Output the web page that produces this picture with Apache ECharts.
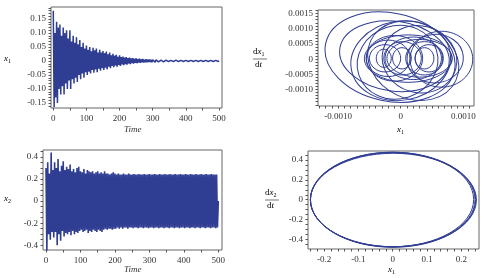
<!DOCTYPE html>
<html>
<head>
<meta charset="utf-8">
<script src="https://cdn.jsdelivr.net/npm/echarts@6/dist/echarts.min.js"></script>
<style>
  html, body { margin: 0; padding: 0; background: #fff; }
  #main { width: 484px; height: 278px; }
</style>
</head>
<body>
<div id="main"></div>
<script>
// x1(t) 上下峰值, 每 5 个时间单位一个 (下峰值在 t+2.5)
var x1Upper = [0.18,0.10,0.14,0.12,0.13,0.09,0.12,0.10,0.11,0.08,
  0.11,0.07,0.09,0.065,0.085,0.06,0.075,0.05,0.065,0.045,
  0.055,0.04,0.05,0.035,0.047,0.038,0.045,0.03,0.04,0.03,
  0.036,0.028,0.034,0.024,0.03,0.02,0.026,0.019,0.022,0.015,
  0.02,0.014,0.016,0.012,0.014,0.01,0.012,0.009,0.01,0.008,
  0.009,0.007,0.008,0.006,0.007,0.005,0.006,0.005,0.005,0.004,
  0.004,0.004,0.004,0.003,0.004,0.003,0.003,0.003,0.003,0.003,
  0.003,0.002,0.003,0.002,0.003,0.002,0.002,0.002,0.002,0.002,
  0.002,0.002,0.002,0.002,0.002,0.002,0.002,0.002,0.002,0.002,
  0.002,0.002,0.002,0.002,0.002,0.002,0.002,0.002,0.002,0.002];
var x1Lower = [-0.165,-0.13,-0.15,-0.10,-0.12,-0.09,-0.12,-0.08,-0.10,-0.07,
  -0.10,-0.065,-0.08,-0.06,-0.075,-0.05,-0.065,-0.045,-0.06,-0.04,
  -0.05,-0.038,-0.045,-0.032,-0.042,-0.03,-0.04,-0.028,-0.035,-0.026,
  -0.032,-0.024,-0.03,-0.02,-0.026,-0.018,-0.022,-0.016,-0.02,-0.014,
  -0.018,-0.012,-0.015,-0.011,-0.013,-0.009,-0.011,-0.008,-0.009,-0.007,
  -0.008,-0.006,-0.007,-0.005,-0.006,-0.005,-0.005,-0.004,-0.004,-0.004,
  -0.003,-0.004,-0.003,-0.003,-0.003,-0.003,-0.003,-0.002,-0.003,-0.002,
  -0.002,-0.002,-0.002,-0.002,-0.002,-0.002,-0.002,-0.002,-0.002,-0.002,
  -0.002,-0.002,-0.002,-0.002,-0.002,-0.002,-0.002,-0.002,-0.002,-0.002,
  -0.002,-0.002,-0.002,-0.002,-0.002,-0.002,-0.002,-0.002,-0.002,-0.002];

// x2(t) 上下峰值
var x2Upper = [0.30,0.35,0.25,0.44,0.28,0.35,0.30,0.38,0.27,0.32,
  0.36,0.28,0.31,0.29,0.33,0.27,0.29,0.26,0.30,0.31,
  0.27,0.26,0.29,0.25,0.28,0.27,0.26,0.27,0.25,0.26,
  0.27,0.25,0.26,0.25,0.27,0.25,0.25,0.24,0.25,0.26,
  0.25,0.24,0.25,0.24,0.24,0.25,0.24,0.24,0.25,0.24,
  0.24,0.245,0.24,0.24,0.245,0.24,0.24,0.245,0.24,0.24,
  0.245,0.24,0.24,0.245,0.24,0.24,0.245,0.24,0.24,0.245,
  0.24,0.24,0.245,0.24,0.24,0.245,0.24,0.24,0.245,0.24,
  0.24,0.245,0.24,0.24,0.245,0.24,0.24,0.245,0.24,0.24,
  0.245,0.24,0.24,0.245,0.24,0.24,0.245,0.24,0.24,0.24];
var x2Lower = [-0.45,-0.30,-0.35,-0.28,-0.33,-0.28,-0.40,-0.30,-0.36,-0.27,
  -0.32,-0.29,-0.30,-0.28,-0.31,-0.27,-0.30,-0.28,-0.29,-0.27,
  -0.26,-0.28,-0.27,-0.26,-0.29,-0.27,-0.28,-0.26,-0.27,-0.28,
  -0.26,-0.27,-0.28,-0.26,-0.25,-0.26,-0.25,-0.25,-0.26,-0.25,
  -0.25,-0.24,-0.25,-0.24,-0.25,-0.24,-0.24,-0.25,-0.24,-0.24,
  -0.245,-0.24,-0.24,-0.245,-0.24,-0.24,-0.245,-0.24,-0.24,-0.245,
  -0.24,-0.24,-0.245,-0.24,-0.24,-0.245,-0.24,-0.24,-0.245,-0.24,
  -0.24,-0.245,-0.24,-0.24,-0.245,-0.24,-0.24,-0.245,-0.24,-0.24,
  -0.245,-0.24,-0.24,-0.245,-0.24,-0.24,-0.245,-0.24,-0.24,-0.245,
  -0.24,-0.24,-0.245,-0.24,-0.24,-0.245,-0.24,-0.24,-0.245,-0.24];

// 相图 (x1, dx1/dt) 中的环: [中心x, 中心y, 半轴x, 半轴y, 倾角(度)]
var loops1 = [
  [-0.00017, 0.00007, 0.00105, 0.00145, -12],
  [-0.00010, 0.00010, 0.00088, 0.00115, -8],
  [0.00000, -0.00005, 0.00080, 0.00130, 10],
  [0.00065, 0.00000, 0.00050, 0.00092, 0],
  [0.00055, 0.00002, 0.00045, 0.00080, 5],
  [0.00030, 0.00000, 0.00060, 0.00110, -15],
  [-0.00005, -0.00010, 0.00065, 0.00120, 18],
  [0.00012, 0.00002, 0.00070, 0.00078, 0],
  [0.00020, -0.00005, 0.00075, 0.00125, -25],
  [-0.00010, 0.00003, 0.00045, 0.00075, 0],
  [0.00020, 0.00003, 0.00045, 0.00070, 0],
  [0.00030, 0.00003, 0.00052, 0.00062, 0],
  [-0.00020, 0.00003, 0.00035, 0.00060, 0],
  [-0.00025, 0.00003, 0.00025, 0.00045, 0],
  [-0.00027, 0.00003, 0.00012, 0.00030, 0],
  [0.00003, 0.00003, 0.00030, 0.00055, 0],
  [0.00002, 0.00003, 0.00015, 0.00035, 0],
  [0.00038, 0.00003, 0.00030, 0.00055, 0],
  [0.00038, 0.00003, 0.00015, 0.00035, 0],
  [0.00045, 0.00003, 0.00022, 0.00045, 0]
];
// 相图 (x, dx2/dt) 的极限环
var loops2 = [
  [0.000, 0.000, 0.240, 0.476, 0],
  [0.002, -0.003, 0.242, 0.472, 0],
  [-0.002, 0.002, 0.238, 0.478, 0],
  [0.001, -0.001, 0.241, 0.480, 0]
];

var timeTicks = [0, 50, 100, 150, 200, 250, 300, 350, 400, 450, 500];
var timeLabels = [0, 100, 200, 300, 400, 500];
var x1Labels = [-0.15, -0.10, -0.05, 0, 0.05, 0.10, 0.15];
var x1Ticks = [-0.16,-0.15,-0.14,-0.13,-0.12,-0.11,-0.10,-0.09,-0.08,-0.07,-0.06,-0.05,-0.04,-0.03,-0.02,-0.01,0,
  0.01,0.02,0.03,0.04,0.05,0.06,0.07,0.08,0.09,0.10,0.11,0.12,0.13,0.14,0.15,0.16,0.17,0.18,0.19];
var p1xLabels = [-0.001, 0, 0.001];
var p1xTicks = [-0.0013,-0.0012,-0.0011,-0.001,-0.0009,-0.0008,-0.0007,-0.0006,-0.0005,-0.0004,-0.0003,-0.0002,-0.0001,0,
  0.0001,0.0002,0.0003,0.0004,0.0005,0.0006,0.0007,0.0008,0.0009,0.001,0.0011];
var p1yLabels = [-0.001, -0.0005, 0, 0.0005, 0.001, 0.0015];
var p1yTicks = [-0.0015,-0.0014,-0.0013,-0.0012,-0.0011,-0.001,-0.0009,-0.0008,-0.0007,-0.0006,-0.0005,-0.0004,-0.0003,-0.0002,-0.0001,0,
  0.0001,0.0002,0.0003,0.0004,0.0005,0.0006,0.0007,0.0008,0.0009,0.001,0.0011,0.0012,0.0013,0.0014,0.0015,0.0016];
var x2Labels = [-0.4, -0.2, 0, 0.2, 0.4];
var x2Ticks = [-0.4,-0.35,-0.3,-0.25,-0.2,-0.15,-0.1,-0.05,0,0.05,0.1,0.15,0.2,0.25,0.3,0.35,0.4,0.45];
var p2xLabels = [-0.2, -0.1, 0, 0.1, 0.2];
var p2xTicks = [-0.24,-0.22,-0.2,-0.18,-0.16,-0.14,-0.12,-0.1,-0.08,-0.06,-0.04,-0.02,0,
  0.02,0.04,0.06,0.08,0.1,0.12,0.14,0.16,0.18,0.2,0.22,0.24];
var p2yLabels = [-0.4, -0.2, 0, 0.2, 0.4];
var p2yTicks = [-0.45,-0.4,-0.35,-0.3,-0.25,-0.2,-0.15,-0.1,-0.05,0,0.05,0.1,0.15,0.2,0.25,0.3,0.35,0.4,0.45];

var LINE = '#2f3d93';
var FONT = '"Liberation Serif", "DejaVu Serif", serif';
var TXT = '#333';

function makeWave(upper, lower, tail) {
  var out = [];
  for (var i = 0; i < upper.length; i++) {
    out.push([i * 5, upper[i]]);
    out.push([i * 5 + 2.5, lower[i]]);
  }
  if (tail != null) out.push([500, tail]);
  return out;
}

function fmt(v) {
  if (v === 0) return '0';
  return String(v);
}

function axis(gridIndex, min, max, labels, ticks, formatter, isX) {
  return {
    type: 'value', gridIndex: gridIndex, min: min, max: max,
    splitLine: { show: false },
    axisLine: { show: false, onZero: false },
    axisTick: { show: true, customValues: ticks, length: 2.5, lineStyle: { color: '#555', width: 1 } },
    axisLabel: {
      show: true, customValues: labels, color: TXT, fontFamily: FONT, fontSize: 9,
      margin: isX ? 6 : 5, formatter: formatter
    }
  };
}

function ellipseItem(params, api) {
  var c = api.coord([api.value(0), api.value(1)]);
  var s = api.size([api.value(2), api.value(3)]);
  return {
    type: 'ellipse',
    x: c[0], y: c[1],
    rotation: api.value(4) * Math.PI / 180,
    shape: { cx: 0, cy: 0, rx: s[0], ry: s[1] },
    style: { fill: null, stroke: LINE, lineWidth: 1 }
  };
}

function sub(main, idx) {
  return '{i|' + main + '}{s|' + idx + '}';
}
var richSub = {
  i: { fontFamily: FONT, fontStyle: 'italic', fontSize: 9, color: TXT },
  s: { fontFamily: FONT, fontSize: 6, color: TXT, verticalAlign: 'bottom', padding: [5, 0, 0, 0] },
  r: { fontFamily: FONT, fontSize: 9, color: TXT }
};

function fraction(cx, cy, idx) {
  return [
    { type: 'text', left: cx - 7, top: cy - 12, style: { text: '{r|d}' + sub('x', idx), rich: richSub } },
    { type: 'line', shape: { x1: cx - 7, y1: cy, x2: cx + 7, y2: cy }, style: { stroke: '#555', lineWidth: 0.8 } },
    { type: 'text', left: cx - 5, top: cy + 1, style: { text: '{r|d}{i|t}', rich: richSub } }
  ];
}

var chart = echarts.init(document.getElementById('main'));

var fmt4 = function (v) { return v === 0 ? '0' : v.toFixed(4); };
var fmt2 = function (v) { return v === 0 ? '0' : v.toFixed(2); };
var fmt1 = function (v) { return v === 0 ? '0' : v.toFixed(1); };

var option = {
  animation: false,
  backgroundColor: '#fff',
  grid: [
    { left: 51, top: 7, width: 171, height: 101, show: true, borderColor: '#666', borderWidth: 1, backgroundColor: '#fff' },
    { left: 318, top: 10, width: 156, height: 96, show: true, borderColor: '#666', borderWidth: 1, backgroundColor: '#fff' },
    { left: 43, top: 150, width: 179, height: 100, show: true, borderColor: '#666', borderWidth: 1, backgroundColor: '#fff' },
    { left: 308, top: 151, width: 171, height: 98, show: true, borderColor: '#666', borderWidth: 1, backgroundColor: '#fff' }
  ],
  xAxis: [
    axis(0, -6.9, 509, timeLabels, timeTicks, fmt, true),
    axis(1, -0.00132, 0.00117, p1xLabels, p1xTicks, fmt4, true),
    axis(2, -8.7, 510.7, timeLabels, timeTicks, fmt, true),
    axis(3, -0.247, 0.2516, p2xLabels, p2xTicks, fmt1, true)
  ],
  yAxis: [
    axis(0, -0.168, 0.193, x1Labels, x1Ticks, fmt2, false),
    axis(1, -0.00154, 0.00162, p1yLabels, p1yTicks, fmt4, false),
    axis(2, -0.443, 0.462, x2Labels, x2Ticks, fmt1, false),
    axis(3, -0.498, 0.492, p2yLabels, p2yTicks, fmt1, false)
  ],
  series: [
    { type: 'line', xAxisIndex: 0, yAxisIndex: 0, data: makeWave(x1Upper, x1Lower, 0.001),
      showSymbol: false, lineStyle: { color: LINE, width: 1.5 }, clip: true },
    { type: 'custom', xAxisIndex: 1, yAxisIndex: 1, data: loops1, renderItem: ellipseItem,
      encode: { x: 0, y: 1 }, clip: true },
    { type: 'line', xAxisIndex: 2, yAxisIndex: 2, data: makeWave(x2Upper, x2Lower, 0),
      showSymbol: false, lineStyle: { color: LINE, width: 1.6 }, clip: true },
    { type: 'custom', xAxisIndex: 3, yAxisIndex: 3, data: loops2, renderItem: ellipseItem,
      encode: { x: 0, y: 1 }, clip: true }
  ],
  graphic: [
    { type: 'text', left: 4, top: 54, style: { text: sub('x', '1'), rich: richSub } },
    { type: 'text', left: 124, top: 125, style: { text: 'Time', fontFamily: FONT, fontStyle: 'italic', fontSize: 9, fill: TXT } },
    { type: 'text', left: 397, top: 125, style: { text: sub('x', '1'), rich: richSub } },
    { type: 'text', left: 4, top: 194, style: { text: sub('x', '2'), rich: richSub } },
    { type: 'text', left: 124, top: 265, style: { text: 'Time', fontFamily: FONT, fontStyle: 'italic', fontSize: 9, fill: TXT } },
    { type: 'text', left: 388, top: 265, style: { text: sub('x', '1'), rich: richSub } }
  ].concat(fraction(260, 59, '1')).concat(fraction(272, 200, '2'))
};

chart.setOption(option);
</script>
</body>
</html>
